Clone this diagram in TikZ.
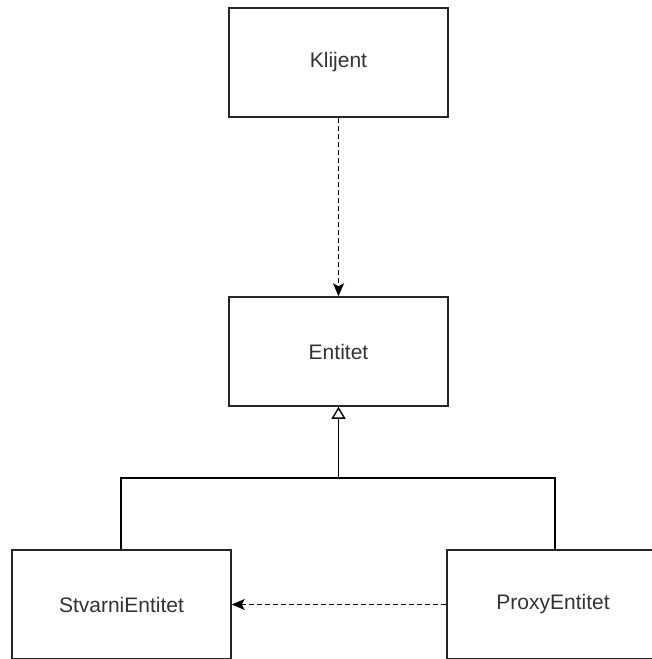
\documentclass[tikz,border=0pt]{standalone}
\usepackage{fontspec}
\setmainfont{Liberation Sans}
\usetikzlibrary{arrows.meta}
\begin{document}
\begin{tikzpicture}[x=1pt,y=-1pt,
  box/.style={draw=black!85,line width=1.5pt,fill=white,minimum width=219pt,minimum height=109pt,inner sep=0pt,text=black!80,font=\fontsize{21}{24}\selectfont},
  dep/.style={line width=1.3pt,dash pattern=on 5pt off 3pt,-{Stealth[length=13pt,width=11pt,inset=3pt]}},
  inh/.style={line width=1.5pt,-{Triangle[open,length=12pt,width=14pt,line width=1.4pt]}}]
\useasboundingbox (0,0) rectangle (652,659);
\node[box] (klijent) at (338.5,62.5) {Klijent};
\node[box] (entitet) at (338.5,351.5) {Entitet};
\node[box] (stvarni) at (121.5,604.5) {StvarniEntitet};
\node[box,minimum width=212pt] (proxy) at (553,604.5) {ProxyEntitet};
\coordinate (j) at (338.5,478);
\draw[dep] (klijent.south) -- (entitet.north);
\draw[line width=1.5pt] (stvarni.north -| 121,0) -- (121,478) -- (555,478) -- (proxy.north -| 555,0);
\draw[inh] (j) -- (entitet.south);
\draw[dep] (proxy.west) -- (stvarni.east);
\end{tikzpicture}
\end{document}
